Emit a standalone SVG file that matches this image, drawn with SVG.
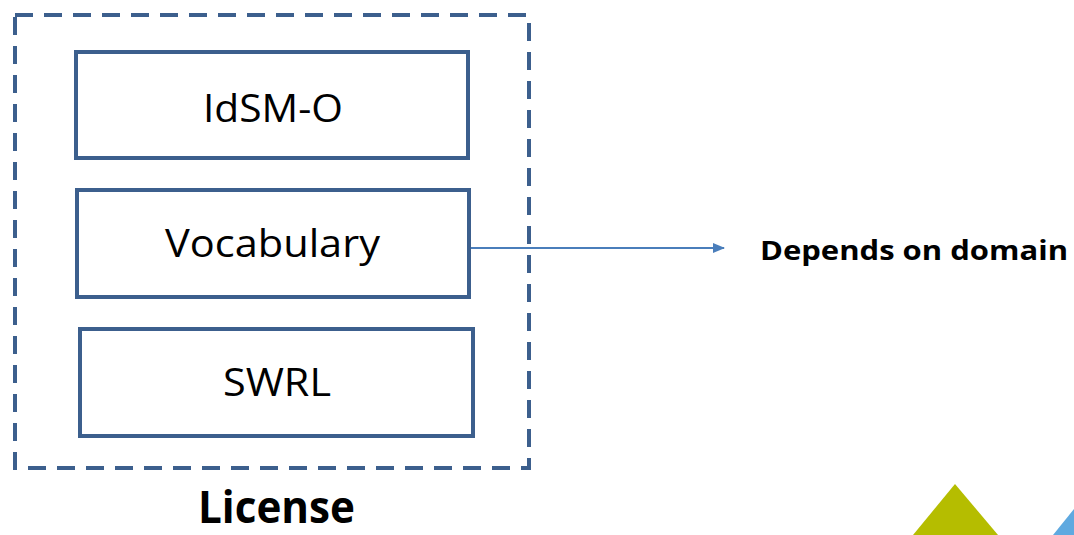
<svg xmlns="http://www.w3.org/2000/svg" width="1074" height="535" viewBox="0 0 1074 535">
<defs>
<style>
.box{fill:#fff;stroke:#3C5F8D;stroke-width:4;}
.lbl{font-family:"Open Sans","Liberation Sans",sans-serif;font-size:38px;fill:#000;text-anchor:middle;}
.bold{font-family:"Open Sans","Liberation Sans",sans-serif;font-weight:bold;fill:#000;}
</style>
<marker id="ah" markerWidth="12" markerHeight="12" refX="11" refY="6" orient="auto" markerUnits="userSpaceOnUse" viewBox="0 0 12 12">
<path d="M0,1 L12,6 L0,11 z" fill="#4A7EBB"/>
</marker>
</defs>
<rect width="1074" height="535" fill="#fff"/>
<g id="license">
<rect x="15" y="15" width="514" height="453" fill="none" stroke="#3C5F8D" stroke-width="4" stroke-dasharray="18,11"/>
<text class="bold" x="276.5" y="523" font-size="44" text-anchor="middle" textLength="157" lengthAdjust="spacingAndGlyphs">License</text>
</g>
<g id="idsm">
<rect class="box" x="76" y="52" width="392" height="106"/>
<text class="lbl" x="273" y="122" textLength="140" lengthAdjust="spacingAndGlyphs">IdSM-O</text>
</g>
<g id="vocab">
<rect class="box" x="77" y="190" width="392" height="107"/>
<text class="lbl" x="272.5" y="257" textLength="215" lengthAdjust="spacingAndGlyphs">Vocabulary</text>
</g>
<g id="swrl">
<rect class="box" x="80" y="329" width="393" height="107"/>
<text class="lbl" x="277" y="396" textLength="108" lengthAdjust="spacingAndGlyphs">SWRL</text>
</g>
<g id="connectors">
<line x1="471" y1="248" x2="724" y2="248" stroke="#4A7EBB" stroke-width="2" marker-end="url(#ah)"/>
</g>
<g id="domain">
<text class="bold" x="760" y="260" font-size="26" textLength="308" lengthAdjust="spacingAndGlyphs">Depends on domain</text>
</g>
<g id="decor">
<polygon points="955,484 913,535 998,535" fill="#B5BD00"/>
<polygon points="1094,484 1053,535 1135,535" fill="#5FA9E0"/>
</g>
</svg>
